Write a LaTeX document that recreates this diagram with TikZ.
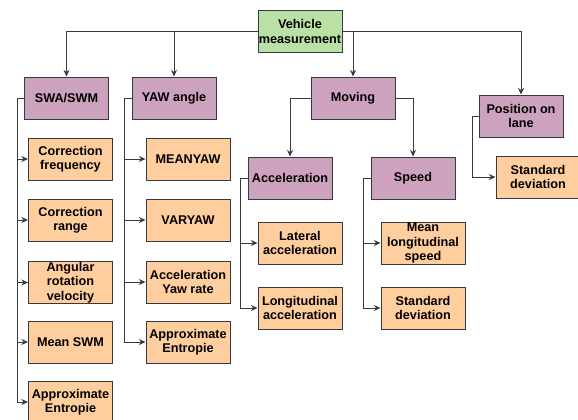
\documentclass[tikz,border=0pt]{standalone}
\usepackage{fontspec}
\setmainfont{Liberation Sans}
\usetikzlibrary{arrows.meta}
\definecolor{rootfill}{HTML}{B9E0A5}
\definecolor{catfill}{HTML}{CDA2BE}
\definecolor{leaffill}{HTML}{FFCE9F}
\definecolor{edgegray}{HTML}{36393D}
\tikzset{every picture/.style={line width=0.75pt}}
\tikzset{
  box/.style={draw=edgegray, line width=0.75pt, minimum width=63pt, minimum height=31.5pt,
    inner sep=0pt, align=center, font=\fontsize{9.5}{10.8}\selectfont\bfseries},
  rootbox/.style={box, fill=rootfill},
  catbox/.style={box, fill=catfill},
  leafbox/.style={box, fill=leaffill},
  arr/.style={draw=edgegray, line width=0.75pt, -{Stealth[length=5pt,width=4.5pt]}}
}
\begin{document}
\begin{tikzpicture}[x=0.75pt,y=0.75pt,yscale=-1,xscale=1]
\useasboundingbox (0,0) rectangle (578,419);

% Root
\node [rootbox] (veh) at (300,31.5) {Vehicle\\measurement};

% Categories
\node [catbox] (swa) at (66.5,98) {SWA/SWM};
\node [catbox] (yaw) at (174,98) {YAW angle};
\node [catbox] (mov) at (353,98) {Moving};
\node [catbox] (pos) at (521,116) {Position on\\lane};
\node [catbox] (acc) at (290,178) {Acceleration};
\node [catbox] (spd) at (413,178) {Speed};

% Leaves of SWA/SWM
\node [leafbox] (corfreq) at (70.5,159) {Correction\\frequency};
\node [leafbox] (corrange) at (70.5,220) {Correction\\range};
\node [leafbox] (angvel) at (70.5,282.5) {Angular\\rotation\\velocity};
\node [leafbox] (meanswm) at (70.5,342) {Mean SWM};
\node [leafbox] (swaent) at (70.5,402) {Approximate\\Entropie};

% Leaves of YAW angle
\node [leafbox] (meanyaw) at (188,159) {MEANYAW};
\node [leafbox] (varyaw) at (188,220) {VARYAW};
\node [leafbox] (yawrate) at (188,282) {Acceleration\\Yaw rate};
\node [leafbox] (yawent) at (188,342) {Approximate\\Entropie};

% Leaves of Acceleration and Speed
\node [leafbox] (latacc) at (300,243) {Lateral\\acceleration};
\node [leafbox] (lonacc) at (300,308) {Longitudinal\\acceleration};
\node [leafbox] (meanspd) at (423,243) {Mean\\longitudinal\\speed};
\node [leafbox] (spdstd) at (423,308) {Standard\\deviation};

% Leaf of Position on lane
\node [leafbox] (posstd) at (538,177) {Standard\\deviation};

% Connectors from root
\draw [arr] (veh.west) -| (swa.north);
\draw [arr] (veh.west) -| (yaw.north);
\draw [arr] (veh.east) -| (mov.north);
\draw [arr] (veh.east) -| (pos.north);
\draw [arr] (mov.west) -| (acc.north);
\draw [arr] (mov.east) -| (spd.north);

% Connectors to leaves
\foreach \n in {corfreq,corrange,angvel,meanswm,swaent}
  \draw [arr] (swa.west) -- ++(-7,0) |- (\n.west);
\foreach \n in {meanyaw,varyaw,yawrate,yawent}
  \draw [arr] (yaw.west) -- ++(-7,0) |- (\n.west);
\foreach \n in {latacc,lonacc}
  \draw [arr] (acc.west) -- ++(-7,0) |- (\n.west);
\foreach \n in {meanspd,spdstd}
  \draw [arr] (spd.west) -- ++(-7,0) |- (\n.west);
\draw [arr] (pos.west) -- ++(-6,0) |- (posstd.west);

\end{tikzpicture}
\end{document}
